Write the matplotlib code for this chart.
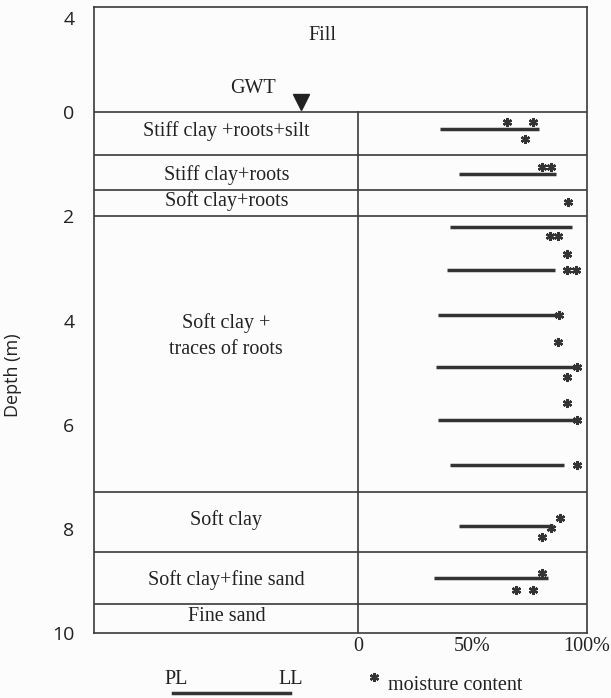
import matplotlib
matplotlib.use("Agg")
import matplotlib.pyplot as plt
from matplotlib.lines import Line2D

plt.rcParams['font.family'] = ['Liberation Serif', 'DejaVu Serif']

# soil layers (depth of top of each layer, m)
layer_tops = [-2.0, 0.0, 0.83, 1.5, 2.0, 7.3, 8.45, 9.45]
layer_bottom = 10.0
layer_names = ["Fill", "Stiff clay +roots+silt", "Stiff clay+roots", "Soft clay+roots",
               "Soft clay +\ntraces of roots", "Soft clay", "Soft clay+fine sand", "Fine sand"]
label_depth = [-1.48, 0.36, 1.21, 1.71, 4.3, 7.83, 8.98, 9.69]

# plastic limit / liquid limit bars
depth_lim = [0.33, 1.19, 2.2, 3.03, 3.9, 4.89, 5.91, 6.78, 7.95, 8.94]
pl = [36, 44, 40, 39, 35, 34, 35, 40, 44, 33]
ll = [79, 86.5, 93.5, 86, 88, 97, 97, 90, 85, 83]

# moisture content
depth_w = [0.19, 0.19, 0.52, 1.05, 1.05, 1.72, 2.38, 2.38, 2.73, 3.03, 3.03, 3.9, 4.41,
           4.89, 5.09, 5.59, 5.91, 6.78, 7.79, 7.98, 8.16, 8.85, 9.17, 9.17]
w = [65, 76.6, 73, 80.5, 84.3, 91.8, 83.8, 87.3, 91.2, 91.3, 95.2, 87.8, 87.3,
     95.6, 91.3, 91.3, 95.6, 95.6, 88.2, 84.3, 80.3, 80.3, 69, 76.4]

ytick_pos = [-1.8, 0, 2, 4, 6, 8, 10]
ytick_lab = ["4", "0", "2", "4", "6", "8", "10"]
xtick_pos = [0, 50, 100]
xtick_lab = ["0", "50%", "100%"]

edge = '#3a3a3a'
txt = '#222222'
fs = 14.5
fig = plt.figure(figsize=(6.11, 6.98), dpi=100)
fig.patch.set_facecolor('#fcfcfc')
ax = fig.add_axes([0.1538, 0.0931, 0.8069, 0.8969])
ax.set_facecolor('#fcfcfc')
ax.set_xlim(-115.3, 100)
ax.set_ylim(layer_bottom, -2.02)

for s in ax.spines.values():
    s.set_color(edge)
    s.set_linewidth(1.2)

# layer boundaries
for t in layer_tops[1:]:
    ax.axhline(t, color=edge, lw=1.2)
ax.plot([0, 0], [layer_tops[1], layer_bottom], color=edge, lw=1.2)

# layer names
for name, d in zip(layer_names, label_depth):
    xc = -15.7 if name == "Fill" else -57.5
    ax.text(xc, d, name, ha='center', va='center', fontsize=fs, color=txt,
            linespacing=1.5)

# ground water table
ax.text(-46, -0.46, "GWT", ha='center', va='center', fontsize=fs, color=txt)
ax.plot([-25], [-0.2], marker='v', markersize=11, color=txt)

# PL - LL range
for d, a, b in zip(depth_lim, pl, ll):
    ax.plot([a, b], [d, d], color='#333333', lw=2.5, solid_capstyle='butt')

# moisture content
ax.plot(w, depth_w, linestyle='none', marker=(6, 2, 0), markersize=6.5,
        markeredgewidth=1.7, color='#333333')

ax.set_yticks(ytick_pos)
ax.set_yticklabels(ytick_lab, family=['Open Sans', 'DejaVu Sans'])
ax.set_xticks(xtick_pos)
ax.set_xticklabels(xtick_lab)
ax.tick_params(length=0, labelcolor=txt)
ax.tick_params(axis='y', pad=14, labelsize=14)
ax.tick_params(axis='x', pad=3, labelsize=fs)

fig.text(13 / 611, 1 - 375 / 698, "Depth (m)", rotation=90, ha='center', va='center',
         fontsize=13, color=txt, family=['Open Sans', 'DejaVu Sans'])

# legend
fig.text(176 / 611, 1 - 680 / 698, "PL", ha='center', va='center', fontsize=fs, color=txt)
fig.text(291 / 611, 1 - 680 / 698, "LL", ha='center', va='center', fontsize=fs, color=txt)
fig.add_artist(Line2D([173 / 611, 290 / 611], [1 - 693 / 698, 1 - 693 / 698],
                      color='#333333', lw=2.5))
fig.add_artist(Line2D([374 / 611], [1 - 677 / 698], marker=(6, 2, 0), markersize=6.5,
                      markeredgewidth=1.7, color='#333333', linestyle='none'))
fig.text(388 / 611, 1 - 685 / 698, "moisture content", ha='left', va='center',
         fontsize=fs, color=txt)

fig.savefig("out.png", dpi=100, facecolor=fig.get_facecolor())
